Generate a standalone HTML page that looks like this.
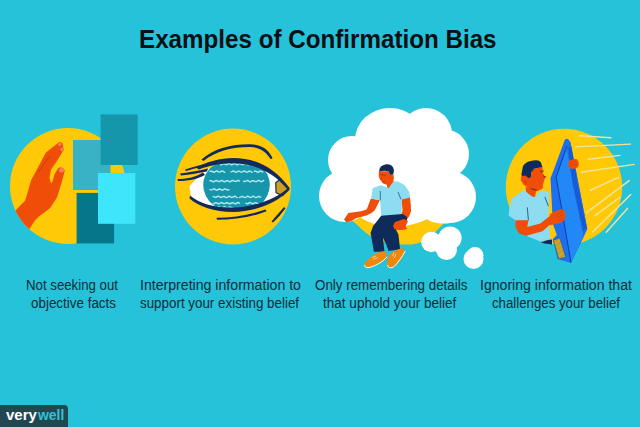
<!DOCTYPE html>
<html><head><meta charset="utf-8">
<style>
html,body{margin:0;padding:0;}
body{width:640px;height:427px;overflow:hidden;background:#26c2d9;position:relative;font-family:"Liberation Sans",sans-serif;}
#art{position:absolute;left:0;top:0;}
.t{position:absolute;white-space:nowrap;}
.ln{position:absolute;white-space:nowrap;transform-origin:0 0;line-height:1;}
.title{font-weight:bold;font-size:26.1px;color:#0a0f14;}
.cap{font-size:14px;color:#0f2c3a;}
#badge{position:absolute;left:0;top:405px;width:68px;height:22px;background:#234750;border-top-right-radius:4px;}
.bw{font-weight:bold;font-size:14.6px;}
#l9{color:#ffffff;}
#l10{color:#2cc4db;}
</style></head><body>
<svg id="art" width="640" height="427" viewBox="0 0 640 427">
  <!-- panel 1 -->
  <defs><clipPath id="c1"><circle cx="68" cy="186" r="58"/></clipPath></defs>
  <circle cx="68" cy="186" r="58" fill="#ffc907"/>
  <path clip-path="url(#c1)" fill="#f04d08" d="M57.5 143.5 Q60 140.8 62.3 143.2 L63.8 149.8 L56.8 161.2 L50.9 169.7 L49.5 178 L51 183.6 L52.6 181.2 L54.4 174.6 L58 168.5 Q61.8 165.2 64.8 170.6 L61.5 183 L57.2 196.9 L50.2 208.1 L38.9 216.5 L34.7 220.7 L27 233 L0 250 L0 215 L15.7 210.2 L21.3 204.6 L24.9 201.1 L26.3 196.9 L31.2 180 L36.9 169.4 L45.9 152.6 Z"/>
  <ellipse cx="59.8" cy="144.2" rx="1.5" ry="1.9" transform="rotate(40 59.8 144.2)" fill="#f0805a"/>
  <ellipse cx="62" cy="149.3" rx="1.5" ry="1.9" transform="rotate(40 62 149.3)" fill="#f0805a"/>
  <ellipse cx="61.6" cy="170.3" rx="2.6" ry="2.3" fill="#f0805a"/>
  <path d="M49.5 156.3 L38.5 172.1" stroke="#b8400f" stroke-width="0.8" fill="none"/>
  <rect x="73" y="140" width="37.5" height="50" fill="#3ab2c6"/>
  <rect x="100.6" y="114.4" width="37.1" height="50.6" fill="#1597ab"/>
  <rect x="76.6" y="192.9" width="37.5" height="50.5" fill="#06778a"/>
  <rect x="98" y="173" width="37.3" height="50.8" fill="#3ee6fb"/>
  <!-- panel 2 -->
  <defs><clipPath id="eyeo"><path d="M189.5 186.5 C196 178 205 170 215 165 C235 157 262 157 288.6 188.7 C270 205 245 210 230 208.6 C214 208 200 204 191 197 Z"/></clipPath></defs>
  <circle cx="233" cy="186.5" r="58" fill="#ffc907"/>
  <path d="M189.5 186.5 C196 178 205 170 215 165 C235 157 262 157 288.6 188.7 C270 205 245 210 230 208.6 C214 208 200 204 191 197 Z" fill="#ffffff"/>
  <g clip-path="url(#eyeo)">
    <ellipse cx="236.5" cy="185" rx="33.3" ry="28" fill="#1796ab"/>
    <path d="M220.6,164.9 L221.4,164.7 L222.2,164.1 L223.0,163.7 L223.7,163.7 L224.5,164.1 L225.3,164.4 L226.1,164.7 L226.9,164.6 L227.7,164.1 L228.4,163.6 L229.2,163.5 L230.0,164.0 L230.8,164.6 L231.6,164.8 L232.4,164.6 L233.1,164.1 L233.9,163.9 L234.7,163.7 L235.5,164.0 L236.3,164.5 L237.1,164.9 L237.8,164.7 L238.6,164.1 L239.4,163.6 L240.2,163.6 L241.0,164.0 L241.8,164.4 L242.5,164.6 L243.3,164.6 L244.1,164.2 L244.9,163.7 L245.7,163.5 L246.5,163.9 L247.2,164.5 L248.0,164.9 L248.8,164.6 L249.6,164.2 L250.4,163.9 L251.2,163.8 L251.9,164.0 L252.7,164.5 L253.5,164.9 L254.3,164.7 M210.0,171.4 L210.8,171.2 L211.6,171.3 L212.3,171.5 L213.1,172.0 L213.9,172.2 L214.7,172.0 L215.5,171.4 L216.2,171.0 L217.0,171.0 L217.8,171.4 L218.6,171.9 L219.3,172.1 L220.1,171.9 L220.9,171.5 L221.7,171.1 L222.5,171.0 L223.2,171.4 L224.0,172.0 L224.8,172.3 M231.1,171.9 L231.9,171.6 L232.7,171.2 L233.4,171.0 L234.2,171.3 L235.0,171.9 L235.8,172.3 L236.6,172.1 L237.4,171.6 L238.1,171.1 L238.9,171.1 L239.7,171.4 L240.5,171.8 L241.3,172.1 L242.0,172.1 L242.8,171.6 L243.6,171.0 L244.4,170.9 L245.2,171.3 L245.9,171.9 L246.7,172.2 L247.5,172.0 L248.3,171.6 L249.1,171.2 L249.9,171.1 L250.6,171.3 L251.4,171.9 L252.2,172.3 M254.3,171.3 L255.1,171.0 L255.8,171.1 L256.6,171.7 L257.4,172.2 L258.1,172.3 L258.9,171.9 L259.6,171.3 L260.4,171.1 L261.2,171.3 L261.9,171.6 L262.7,172.0 M210.0,180.8 L210.8,180.6 L211.6,180.8 L212.4,181.3 L213.2,181.8 L214.0,181.7 L214.8,181.1 L215.6,180.6 L216.4,180.5 L217.2,180.9 L218.0,181.3 L218.8,181.5 L219.6,181.5 L220.4,181.1 L221.2,180.6 L222.0,180.4 L222.8,180.9 L223.6,181.5 L224.4,181.8 L225.1,181.5 L225.9,181.0 L226.7,180.7 L227.5,180.7 L228.3,181.0 L229.1,181.5 L229.9,181.8 L230.7,181.5 L231.5,180.9 L232.3,180.5 L233.1,180.5 L233.9,181.0 L234.7,181.4 L235.5,181.5 L236.3,181.4 L237.1,180.9 L237.9,180.5 L238.7,180.5 L239.5,181.1 M243.7,181.3 L244.5,181.5 L245.2,181.4 L246.0,181.1 L246.8,180.7 L247.6,180.5 L248.3,180.7 L249.1,181.3 L249.9,181.8 L250.7,181.7 L251.4,181.2 L252.2,180.7 L253.0,180.6 L253.8,180.8 L254.5,181.2 L255.3,181.6 L256.1,181.7 L256.8,181.3 L257.6,180.7 L258.4,180.4 L259.2,180.6 L259.9,181.2 L260.7,181.6 L261.5,181.5 L262.3,181.3 L263.0,180.9 L263.8,180.5 M210.0,189.6 L210.8,189.9 L211.6,189.9 L212.4,189.6 L213.2,189.2 L214.0,188.9 L214.8,189.0 L215.5,189.6 L216.3,190.1 L217.1,190.2 L217.9,189.7 L218.7,189.2 L219.5,189.0 L220.3,189.2 L221.1,189.6 L221.9,190.0 L222.7,190.1 L223.5,189.7 L224.2,189.1 L225.0,188.8 L225.8,189.1 L226.6,189.6 L227.4,190.0 L228.2,189.9 L229.0,189.6 M213.2,196.4 L214.0,196.8 L214.8,197.2 L215.5,197.3 L216.3,197.2 L217.1,196.7 L217.9,196.3 L218.7,196.3 L219.4,196.8 L220.2,197.4 L221.0,197.5 L221.8,197.2 L222.6,196.8 L223.3,196.5 L224.1,196.5 L224.9,196.8 L225.7,197.3 L226.5,197.6 L227.3,197.3 L228.0,196.7 L228.8,196.3 L229.6,196.3 L230.4,196.8 L231.2,197.2 L231.9,197.3 L232.7,197.2 L233.5,196.8 L234.3,196.3 L235.1,196.3 L235.8,196.7 L236.6,197.3 L237.4,197.6 M239.5,197.5 L240.3,197.2 L241.1,196.8 L241.8,196.5 L242.6,196.5 L243.4,196.8 L244.2,197.3 L245.0,197.6 L245.8,197.3 L246.5,196.7 L247.3,196.3 L248.1,196.3 L248.9,196.8 L249.7,197.2 L250.4,197.3 L251.2,197.2 L252.0,196.8 L252.8,196.3 L253.6,196.3 L254.3,196.7 L255.1,197.3 L255.9,197.6 L256.7,197.3 L257.5,196.8 L258.3,196.5 L259.0,196.5 L259.8,196.8 L260.6,197.2 M213.2,203.9 L214.0,203.7 L214.8,203.1 L215.6,202.7 L216.4,202.8 L217.2,203.1 L218.0,203.5 L218.8,203.8 L219.6,203.6 L220.4,203.0 L221.2,202.5 L222.0,202.6 L222.8,203.1 L223.6,203.6 L224.4,203.7 L225.2,203.4 L226.0,203.0 L226.7,202.7 L227.5,202.7 L228.3,203.1 L229.1,203.7 L229.9,203.9 L230.7,203.5 L231.5,202.9 L232.3,202.7 L233.1,202.8 L233.9,203.2 L234.7,203.6 L235.5,203.8 L236.3,203.5 L237.1,202.9 L237.9,202.5 L238.7,202.7 L239.5,203.3 M245.9,203.2 L246.7,203.5 L247.5,203.7 L248.3,203.5 L249.1,202.9 L249.8,202.5 L250.6,202.6 L251.4,203.2 L252.2,203.7 L253.0,203.8 L253.8,203.4 L254.6,203.0 L255.3,202.8 L256.1,202.8 L256.9,203.2 L257.7,203.7 L258.5,203.9 M217.4,207.5 L218.2,207.0 L219.0,206.8 L219.8,207.1 L220.6,207.5 L221.3,207.8 L222.1,207.8 L222.9,207.5 L223.7,207.0 L224.5,206.7 L225.3,207.0 L226.1,207.6 L226.9,208.0 L227.7,207.9 L228.5,207.5 L229.2,207.1 L230.0,207.0 L230.8,207.1 L231.6,207.6 L232.4,208.0 L233.2,208.0" stroke="#aeeaf2" stroke-width="1.4" fill="none" stroke-linecap="round" stroke-linejoin="round"/>
  </g>
  <path d="M275.7 182.7 L279.7 179.8 L288.6 188.7 L282.7 195.7 L276.1 192.7 Z" fill="#cfa020" stroke="#142a5c" stroke-width="1.2" stroke-linejoin="round"/>
  <g fill="#142a5c">
    <path d="M201.5 159.5 C214 148 232 144 250 144.2 C262 144.5 269 150 272.5 158.2 L270.8 159.3 C266 151.5 260 147.5 250 147 C233 146.8 216 151 203.5 161 Z"/>
    <path d="M196 167.5 C222 154 262 150 290 188.5 L287.5 189.5 C262 158 225 160 199 169.5 Z"/>
    <path d="M185 169.5 C196 166 206 163.5 216 161.5 L214 165 C204 166 195 168 186 171 Z"/>
    <path d="M180 173.6 C190 172 200 170.5 208 168.5 L207 171.5 C199 173 190 174.5 181 175.5 Z"/>
    <path d="M177.5 179 C186 179 195 177.5 203 172.5 L205 175 C197 179.5 187 181 178 181 Z"/>
    <path d="M190 195.5 C200 204 215 208 233 207.5 C255 207 275 199.5 288.6 187.5 L289.5 190 C276 203.5 255 211.8 233 212 C214 212 199 206.5 189.5 198.5 Z"/>
    <path d="M216.5 217.8 C233 217.5 250 215 265.5 209.5 L266.5 211.3 C251 217.5 234 219.8 217 219.8 Z"/>
    <path d="M271.5 221.5 C276 216 280 211.5 284 207 L285.5 208.3 C282 213 278 218 273 222.5 Z"/>
  </g>
  <!-- panel 3 -->
  <path d="M346 218 C351 220 355 222.5 359 226.5 C361 228.5 362.5 230 364.3 231.4 C370 236 375 239 382 241 C392 244 402 245 412 244.5 C425 243 435 233 444 223 L444 205 L345 205 Z" fill="#ffc907"/>
  <g fill="#ffffff">
    <ellipse cx="390" cy="140" rx="35" ry="32"/>
    <circle cx="426" cy="134" r="26"/>
    <circle cx="444.5" cy="154" r="24.5"/>
    <circle cx="450" cy="197" r="26"/>
    <circle cx="352" cy="160" r="24"/>
    <circle cx="345" cy="196" r="26"/>
    <path d="M352 150 L386 125 L428 120 L455 150 L455 210 L340 210 Z"/>
    <path d="M340 200 L340 220 Q350 220.5 360 217 C372 226 395 229 410 225 C418 223 424 221 427 219 C432 223 440 224 447 223.5 C452 223 456 222 460 220 L460 200 Z"/>
    <circle cx="431.4" cy="242" r="10.2"/>
    <circle cx="450" cy="238" r="11.6"/>
    <circle cx="446.5" cy="249.5" r="10.5"/>
    <circle cx="442" cy="244" r="10"/>
    <circle cx="475" cy="255.5" r="8.5"/>
    <circle cx="473.5" cy="259" r="10"/>
  </g>
  <!-- man 3 -->
  <g>
    <!-- left arm -->
    <path d="M370.9 198.5 L379.8 200.3 L377.4 205 L374.8 210.3 C372 213 369 214.5 366.4 215.5 L355.8 218.2 L353.7 219.8 L350.5 221.2 L346.3 222.2 L344 219.5 L348.4 213 L361.1 211.3 L366.5 209.5 C368 207 369 203 370.9 198.5 Z" fill="#f04d08"/>
    <!-- right arm -->
    <path d="M401.5 198 L409.8 196.5 L410.8 205 L411 211 C410 216 406.5 220 404.5 222 L405.5 226.5 L407 229 L400 230 L394.5 229.2 L393 226 L395 222 C398.5 219 402 215.5 402.5 210 Z" fill="#f04d08"/>
    <!-- neck -->
    <path d="M386 181 L393.5 180 L394 188 L388 190 Z" fill="#f04d08"/>
    <!-- face -->
    <path d="M378.9 171.2 L388.7 171.2 L390.1 175 L393.4 174 L393.9 178.7 L392.5 181.5 L393 187.2 L387.8 189 L386.9 184.8 L383.1 183.4 L380.3 180.1 L378.7 176.4 Z" fill="#f04d08"/>
    <path d="M380.5 174.5 L386 175.5 M380.8 178.5 L382 178.5 M382.5 181.5 L385 182" stroke="#8a2a0a" stroke-width="0.6" fill="none"/>
    <!-- hair -->
    <path d="M379.4 169.4 C380 166.5 383 164.2 387.8 164.2 C391 164.5 393.5 166.5 393.9 170.3 L393.4 174 L390.1 175 L388.7 171.2 L384.1 170.8 L379.2 171.6 Z" fill="#0f2a5c"/>
    <!-- shirt -->
    <path d="M372.8 188.1 L381.2 185.3 L388.7 188.1 L393.4 181.5 L398.1 181.5 L404.7 185.3 L409.3 191.9 L410.2 197.5 L402 199.5 L401.5 216.5 L381.5 217.8 L380 200.3 L371 198.4 Z" fill="#8edcef"/>
    <path d="M380.3 191 L380.3 200.3 M398 191.9 L400.9 199.3" stroke="#0f2a5c" stroke-width="0.6" fill="none"/>
    <!-- pants -->
    <path d="M381.2 215.7 L373 226.3 L370.6 232.9 L373.9 251.7 L384.5 251.7 L382.9 237.8 L386.1 244.3 L388.6 250.9 L400.1 249.3 L398.4 234.5 L394.3 226.3 L404.2 223 C407 222 407.5 219 406.5 216.5 L402.5 214 Z" fill="#0e2b5c"/>
    <!-- right hand over pants -->
    <path d="M404 219 L408 221 L405.5 226.5 L407 229 L400 230 L394.5 229.2 L393 226 L395 222 Z" fill="#f04d08"/>
    <!-- shoes -->
    <path d="M364.3 265.3 C364 263.5 366 261 368.6 259.1 L374.1 254.4 L378 252.4 L384.2 251 C386 251.5 387 254 386.8 256.7 C385.5 259 383.4 260.6 383.4 260.6 L378 263.8 L370.9 266.9 L366.3 267.7 Z" fill="#f0870d"/>
    <path d="M387.3 265.3 C386.8 263 387 261 387.3 259.8 L390.5 253.6 L395.2 250.5 L401.4 248.3 C403.5 248.5 404.8 250 404.6 252 L403.8 255.2 L399.1 262.2 L393.6 267.3 L389.7 268 Z" fill="#f0870d"/>
    <path d="M364.5 265.5 C365 267.5 367 268 370 267.3 C376 265.5 382 262.5 387 257" stroke="#fff" stroke-width="1" fill="none" stroke-linecap="round"/>
    <path d="M387.5 265.5 C388 267.5 390 268.3 393 267.5 C398 263 402 257 405 251.5" stroke="#fff" stroke-width="1" fill="none" stroke-linecap="round"/>
    <path d="M372 257.5 L376 256 M373 259.5 L377.5 257.5 M392.5 256 L394 252.5 M394 258 L396 254" stroke="#fde6c8" stroke-width="0.7" fill="none"/>
  </g>
  <!-- panel 4 -->
  <circle cx="564" cy="187" r="58.2" fill="#ffc907"/>
  <path stroke="#efe49e" stroke-width="1.45" stroke-linecap="round" fill="none" d="M579.8 135.7 L610.8 137.7 M575.6 146.9 L630.4 144.1 M588.3 159.3 L620 155.4 M581.2 172.2 L634.1 164.4 M589.8 190.5 L618.5 177.4 M586.6 212.6 L629.2 180.7 M594.8 215.9 L620.2 197 M592.3 232.3 L630.8 194.6 M606.2 232.3 L627.5 208.5"/>
  <!-- man 4 -->
  <g>
    <path d="M525.5 186.6 L536.1 190.8 L535 197.5 L526.6 197.5 Z" fill="#f04d08"/>
    <path d="M512 198 L524.9 189.8 C527 193 531 196.5 534 197 C536.5 196.5 537.5 194 538.5 192 L543.7 190.5 L549 192.5 L549.2 201.6 L548.3 218 L550.5 240.2 L540.2 241.4 L528.4 236.7 L519.1 229.7 L515.5 220.3 L508.5 215.6 L509.7 206.2 Z" fill="#8edcef"/>
    <path d="M527.3 207.4 L528.4 220.3 M544.8 196.9 L548.4 206.2" stroke="#0f2a5c" stroke-width="0.7" fill="none"/>
    <path d="M541 242.5 C545 240.5 549 239.5 552 239.5 L552 244.5 C548 244 544 243.5 541 242.5 Z" fill="#0e2b5c"/>
    <path d="M515.5 220.3 L528.4 220.3 L527.3 227 L540.2 223.6 L550.5 215.5 L553 224.5 L549.5 225 L542.5 231.2 L526.1 235.8 L519.1 233.4 L515.5 227.3 Z" fill="#f04d08"/>
    <path d="M521.3 176.1 L525.5 174.5 L530.8 176.6 L532.4 169.2 L542.4 167.1 L542.9 172.9 L543.9 175.5 L546.6 176.6 L544.5 179.2 L543.4 182.9 L542.4 188.7 L537.1 191.3 L530.8 189.7 L526.6 186.6 L523.4 184.5 L520.8 180.3 Z" fill="#f04d08"/>
    <path d="M521.3 175 L522.9 166.6 C524.5 163 528 161 536.1 160.3 C539 160.5 541 162 541.3 163.4 L542.4 167.1 L533.9 168.7 L531.3 172.4 L530.8 177.1 L528.7 178.2 L525.5 175.5 L522.4 176.1 Z" fill="#0f2a5c"/>
    <path d="M540.3 171.8 L543.9 170.8 M530.8 188.7 L536.6 190.3 M543 175.5 L545 177" stroke="#0f2a5c" stroke-width="0.7" fill="none"/>
    <path d="M524.5 180 C525.5 181.5 525.5 183 526.5 184" stroke="#b83a08" stroke-width="0.7" fill="none"/>
  </g>
  <!-- tablet -->
  <path d="M564.7 139.9 Q567.5 137 570.3 142 L587.3 229 L581.5 241.4 L571 263 L557.5 259 L552.8 239 L556.9 235 L552.9 224.1 L550.5 178.2 L553.7 170 Z" fill="#1b6ff0"/>
  <path d="M566.8 146.2 L572.7 185 L583.2 234.2 L581 241.5 L571 262.5 L556.2 177.1 Z" fill="#2388f7"/>
  <path d="M568.5 144 L570.3 142 L587.3 229 L583.2 234.2 L572.7 185 L566.8 146.2 Z" fill="#1d6cec"/>
  <g stroke="#0d45b0" stroke-width="0.6" fill="none">
    <path d="M568.6 148 L574 185 L583.8 231"/>
    <path d="M569.8 147 L575.6 185 L584.9 229.5"/>
    <path d="M571 146.5 L577 185 L586 228.5"/>
  </g>
  <path d="M566.8 146.2 L556.2 177.1 L571 262.5" stroke="#0d3f9e" stroke-width="1" fill="none"/>
  <defs><clipPath id="card"><path d="M553.4 240.2 L559.8 237.9 L565.7 257.2 L558.7 259 Z"/></clipPath></defs>
  <path d="M553.4 240.2 L559.8 237.9 L565.7 257.2 L558.7 259 Z" fill="#c9a52b" stroke="#1450c0" stroke-width="0.6"/>
  <g clip-path="url(#card)" stroke="#a8861e" stroke-width="0.5"><path d="M550 246 L562 236 M551 250 L564 240 M552 254 L566 243 M553 258 L567 247 M555 262 L568 251 M557 265 L569 255"/></g>
  <!-- hand on tablet top -->
  <path d="M568.5 161.5 C571 159.5 574.5 158.5 577 159.3 C578.5 160.5 579 163.5 578.5 166 C577.8 168 575 168.6 572 169 L568.2 167 Z" fill="#f04d08"/>
  <path d="M569.5 163.5 L576 161.2 M569.5 166 L577 163.8" stroke="#c23a05" stroke-width="0.5" fill="none"/>
  <!-- hand on tablet bottom -->
  <path d="M549.8 214.7 C552 212.5 554.5 211.5 557 210.8 L560.5 209 L563.8 209.8 C565 212 565.6 215 565.4 217.5 C564.5 220.5 562 222.5 558.8 223.6 L554 224.6 L549.5 224.8 Z" fill="#f04d08"/>
  <path d="M556 215 L562.5 211.5 M557 218 L563.5 214.5 M558 221 L564 218" stroke="#c03a05" stroke-width="0.45" fill="none"/>
</svg>
<div id="l0" class="title ln" style="left:138.67px;top:26.01px;transform:scaleX(0.9271);">Examples of Confirmation Bias</div>
<div id="l1" class="cap ln" style="left:26.25px;top:277.85px;transform:scaleX(0.9454);">Not seeking out</div>
<div id="l2" class="cap ln" style="left:30.50px;top:295.55px;transform:scaleX(0.9584);">objective facts</div>
<div id="l3" class="cap ln" style="left:139.69px;top:277.85px;transform:scaleX(1.0089);">Interpreting information to</div>
<div id="l4" class="cap ln" style="left:140.40px;top:295.55px;transform:scaleX(0.9551);">support your existing belief</div>
<div id="l5" class="cap ln" style="left:314.60px;top:277.85px;transform:scaleX(0.9553);">Only remembering details</div>
<div id="l6" class="cap ln" style="left:323.00px;top:295.55px;transform:scaleX(0.9681);">that uphold your belief</div>
<div id="l7" class="cap ln" style="left:479.59px;top:277.85px;transform:scaleX(1.0060);">Ignoring information that</div>
<div id="l8" class="cap ln" style="left:491.80px;top:295.55px;transform:scaleX(0.9449);">challenges your belief</div>
<div id="badge"></div>
<div id="l9" class="bw ln" style="left:5.90px;top:407.94px;transform:scaleX(1.0267);">very</div>
<div id="l10" class="bw ln" style="left:37.50px;top:407.94px;transform:scaleX(0.9556);">well</div>
</body></html>
